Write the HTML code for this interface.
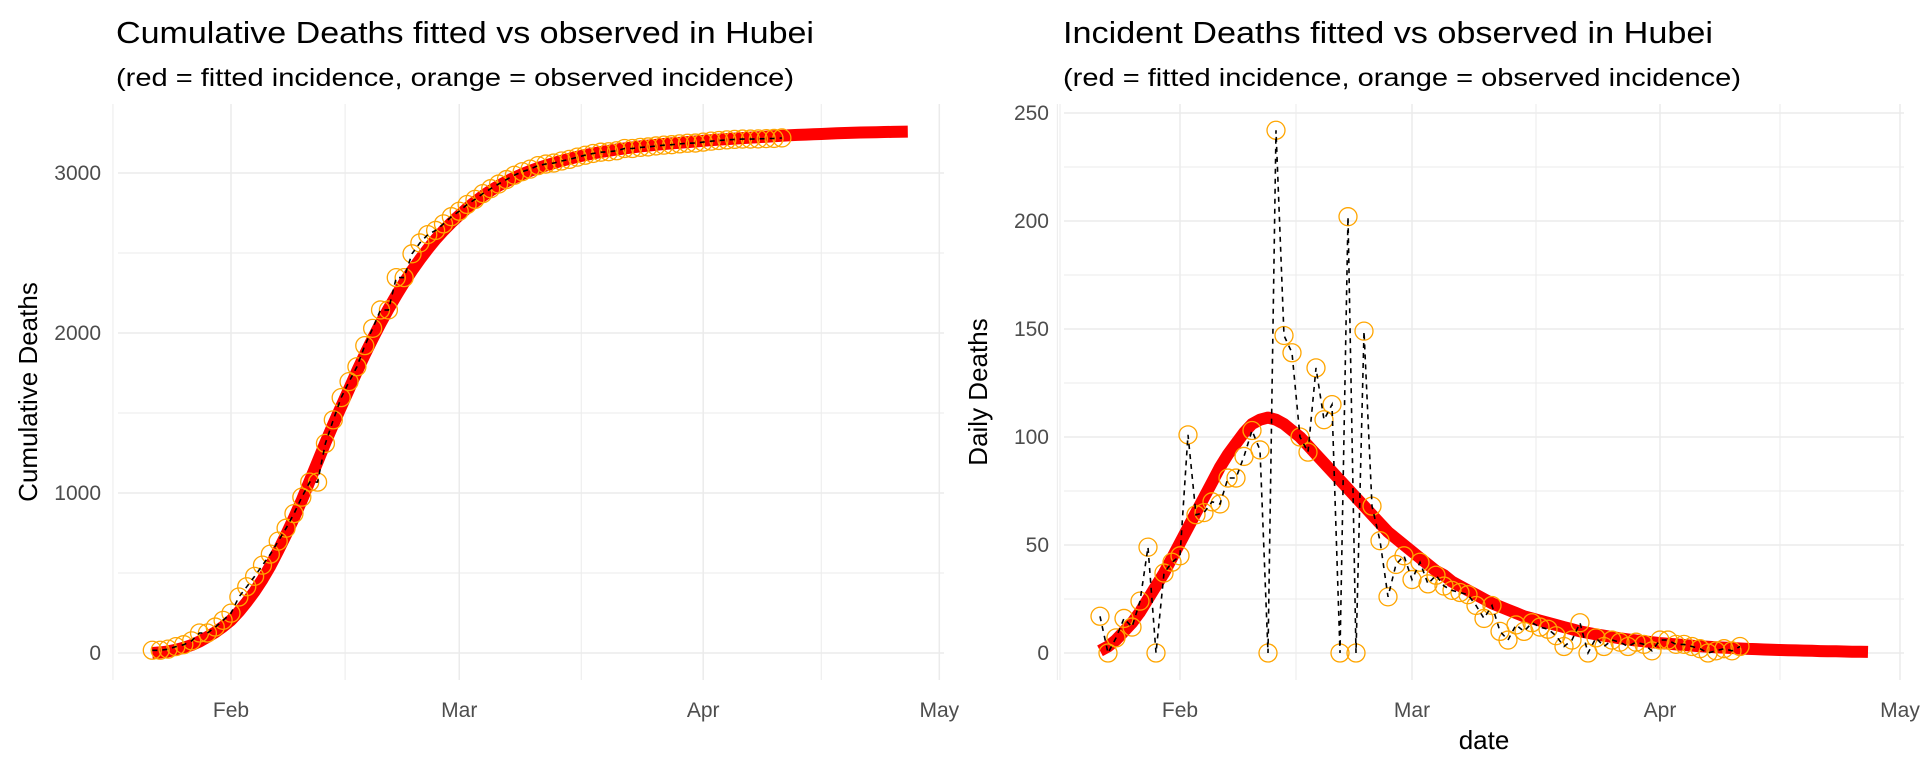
<!DOCTYPE html>
<html><head><meta charset="utf-8"><style>
html,body{margin:0;padding:0;background:#fff;}
svg{display:block;font-family:"Liberation Sans",Arial,sans-serif;}
</style></head><body>
<svg id="chart" width="1920" height="768" viewBox="0 0 1920 768" xmlns="http://www.w3.org/2000/svg">
<g id="left"></g>
<g id="right"></g>
</svg>
<script>
// day index 0 = Jan 22 2020
const monthTickLabels = ["Feb","Mar","Apr","May"];
const monthTickDays = [10,39,70,100];
const minorTickDays = [-5,24.5,54.5,85,115];
const cumYTicks = [0,1000,2000,3000];
const incYTicks = [0,50,100,150,200,250];
const obsCumulative = [17,17,24,40,52,76,125,125,162,204,249,350,414,479,549,618,699,780,871,974,1068,1068,1310,1457,1596,1696,1789,1921,2029,2144,2144,2346,2346,2495,2563,2615,2641,2682,2727,2761,2803,2835,2871,2902,2931,2959,2986,3008,3024,3046,3056,3062,3075,3085,3099,3111,3122,3130,3133,3139,3153,3153,3160,3163,3169,3174,3177,3182,3186,3187,3193,3199,3203,3207,3210,3212,3212,3213,3215,3216,3219];
const obsIncident = [17,0,7,16,12,24,49,0,37,42,45,101,64,65,70,69,81,81,91,103,94,0,242,147,139,100,93,132,108,115,0,202,0,149,68,52,26,41,45,34,42,32,36,31,29,28,27,22,16,22,10,6,13,10,14,12,11,8,3,6,14,0,7,3,6,5,3,5,4,1,6,6,4,4,3,2,0,1,2,1,3];
const fitCumulative = [0,4,10,20,33,50,72,100,130,165,205,258,318,385,460,545,640,740,845,955,1075,1195,1315,1430,1540,1650,1760,1865,1965,2060,2150,2235,2315,2390,2460,2525,2585,2640,2690,2735,2780,2820,2857,2890,2920,2947,2971,2993,3013,3031,3047,3062,3076,3089,3101,3112,3122,3131,3139,3147,3154,3160,3166,3171,3176,3181,3185,3189,3193,3197,3201,3205,3209,3212,3215,3218,3221,3224,3227,3230,3233,3236,3238,3240,3242,3244,3246,3248,3250,3252,3253,3254,3255,3256,3257,3258,3259];
const fitIncident = [1,3,6,10,14,19,25,31,37,44,51,58,65,72,79,86,92,97,102,106,108,109,108,106,103,100,96,92,88,84,80,76,72,68,64,60,56,53,50,47,44,41,38,36,33,31,29,27,25,23,21.5,20,18.5,17,16,15,14,13,12,11,10,9.3,8.6,8,7.4,6.8,6.3,5.8,5.4,5,4.6,4.3,4,3.7,3.4,3.1,2.9,2.7,2.5,2.3,2.1,1.9,1.8,1.6,1.5,1.4,1.3,1.2,1.1,1,0.9,0.8,0.8,0.7,0.6,0.6,0.5];

const NS="http://www.w3.org/2000/svg";
function mk(parent,tag,attrs){const e=document.createElementNS(NS,tag);for(const k in attrs)e.setAttribute(k,attrs[k]);parent.appendChild(e);return e;}

function panel(g,cfg){
  const xs=d=>cfg.feb+(d-10)*cfg.dx;
  const ys=v=>cfg.y0-v*cfg.dy;
  for(let i=0;i<cfg.yTicks.length;i++){
    const v=cfg.yTicks[i]+cfg.yStep/2;
    if(ys(v)<cfg.top) continue;
    const l=mk(g,'line',{x1:cfg.left,x2:cfg.right,y1:ys(v),y2:ys(v),stroke:'#ebebeb','stroke-width':1});
    
    
  }
  for(const d of minorTickDays){
    const l=mk(g,'line',{x1:xs(d),x2:xs(d),y1:cfg.top,y2:cfg.bottom,stroke:'#ebebeb','stroke-width':1});
    
    
  }
  for(const v of cfg.yTicks){
    const l=mk(g,'line',{x1:cfg.left,x2:cfg.right,y1:ys(v),y2:ys(v),stroke:'#ebebeb','stroke-width':1.5});
    
    
    const t=mk(g,'text',{x:cfg.ylabX,y:ys(v)+7,'text-anchor':'end','font-size':21,fill:'#4d4d4d'});
    t.textContent=v;
    
    
  }
  monthTickDays.forEach((d,i)=>{
    const l=mk(g,'line',{x1:xs(d),x2:xs(d),y1:cfg.top,y2:cfg.bottom,stroke:'#ebebeb','stroke-width':1.5});
    
    
    const t=mk(g,'text',{x:xs(d),y:717,'text-anchor':'middle','font-size':21,fill:'#4d4d4d'});
    t.textContent=monthTickLabels[i];
    
    
  });
  const fp=cfg.fit.map((v,i)=>(i?'L':'M')+xs(i).toFixed(1)+','+ys(v).toFixed(1)).join('');
  const fl=mk(g,'path',{d:fp,fill:'none',stroke:'#ff0000','stroke-width':12,'stroke-linejoin':'round'});
  
  
  cfg.obs.forEach((v,i)=>{
    const c=mk(g,'circle',{cx:xs(i),cy:ys(v),r:9,fill:'none',stroke:'#ffa500','stroke-width':1.3});
    
    
  });
  const op=cfg.obs.map((v,i)=>(i?'L':'M')+xs(i).toFixed(1)+','+ys(v).toFixed(1)).join('');
  const ol=mk(g,'path',{d:op,fill:'none',stroke:'#000','stroke-width':1.6,'stroke-dasharray':'5,5'});
  
  
  const t1=mk(g,'text',{x:cfg.titleX,y:43,'font-size':31,fill:'#000',textLength:cfg.titleW,lengthAdjust:'spacingAndGlyphs'});
  t1.textContent=cfg.title;
  
  
  const t2=mk(g,'text',{x:cfg.titleX,y:86,'font-size':25,fill:'#000',textLength:678,lengthAdjust:'spacingAndGlyphs'});
  t2.textContent='(red = fitted incidence, orange = observed incidence)';
  
  
  const yt=mk(g,'text',{x:0,y:0,'font-size':26,fill:'#000','text-anchor':'middle',transform:`translate(${cfg.yTitleX},${cfg.yTitleY}) rotate(-90)`});
  yt.textContent=cfg.yTitle;
  
  
}
panel(document.getElementById('left'),{left:118,right:944,top:104,bottom:680,feb:231,dx:7.87,y0:653,dy:0.16,
  yTicks:cumYTicks,yStep:1000,ylabX:101,fit:fitCumulative,obs:obsCumulative,
  title:'Cumulative Deaths fitted vs observed in Hubei',titleX:116,titleW:698,yTitle:'Cumulative Deaths',yTitleX:37,yTitleY:392});
panel(document.getElementById('right'),{left:1064,right:1904,top:104,bottom:680,feb:1180,dx:8.0,y0:653,dy:2.16,
  yTicks:incYTicks,yStep:50,ylabX:1049,fit:fitIncident,obs:obsIncident,
  title:'Incident Deaths fitted vs observed in Hubei',titleX:1063,titleW:650,yTitle:'Daily Deaths',yTitleX:987,yTitleY:392});
const dt=mk(document.getElementById('right'),'text',{x:1484,y:749,'font-size':26,'text-anchor':'middle',fill:'#000'});
dt.textContent='date';


</script>
</body></html>
